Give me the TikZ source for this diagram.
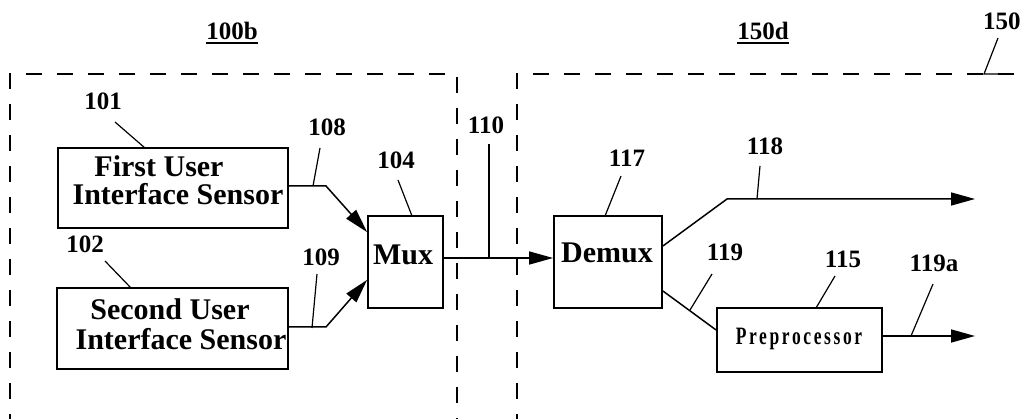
\documentclass[tikz,border=0pt]{standalone}
\usepackage{fontspec}
\setmainfont{Liberation Serif}
\usetikzlibrary{arrows.meta,calc}
\newcommand{\myul}[1]{\setbox0=\hbox{#1}\vtop{\copy0\kern2pt\hrule height 2pt width \wd0}}
\begin{document}
\begin{tikzpicture}[x=1pt,y=-1pt,
 box/.style={draw,line width=1.8pt,inner sep=0pt},
 btext/.style={inner sep=0pt,anchor=base,font=\fontsize{30}{29}\selectfont\bfseries},
 num/.style={inner sep=0pt,font=\fontsize{25}{25}\selectfont\bfseries},
 conn/.style={line width=1.5pt},
 arr/.style={conn,-{Triangle[length=24pt,width=13pt]}},
 lead/.style={line width=1.2pt},
 dashbox/.style={line width=1.6pt,dash pattern=on 16pt off 15pt}]
\useasboundingbox (0,0) rectangle (1020,419);
\clip (0,0) rectangle (1020,419);

% dashed enclosures
\draw[dashbox] (10,430) -- (10,74) -- (457,74) -- (457,430);
\draw[dashbox] (517,430) -- (517,74) -- (1040,74);

% headings
\node[num,anchor=base] (l100b) at (232,40) {\myul{100b}};
\node[num,anchor=base] (l150d) at (763,40) {\myul{150d}};
\node[num,anchor=base west] (l150) at (983,30) {150};

% boxes
\node[box,minimum width=230pt,minimum height=80pt] (b101) at (173,188) {};
\node[box,minimum width=231pt,minimum height=81pt] (b102) at (172.5,328.5) {};
\node[box,minimum width=75pt,minimum height=92pt] (mux) at (405.5,262) {};
\node[box,minimum width=108pt,minimum height=92pt] (demux) at (608,262) {};
\node[box,minimum width=165pt,minimum height=64pt] (pre) at (799.5,340) {};

% box texts
\node[btext] (t101a) at (159,177) {First User};
\node[btext] (t101b) at (178,205) {Interface Sensor};
\node[btext] (t102a) at (170,320) {Second User};
\node[btext] (t102b) at (181,350) {Interface Sensor};
\node[btext] (tmux) at (403,265) {Mux};
\node[btext] (tdemux) at (607,263) {Demux};
\node[inner sep=0pt,anchor=base,font=\fontsize{25}{25}\selectfont\bfseries] (tpre) at (799,345)
  {\scalebox{0.7}[1]{\addfontfeature{LetterSpace=15}Preprocessor}};

% numeric labels
\node[num] (l101) at (103,101) {101};
\node[num] (l102) at (85,244) {102};
\node[num] (l104) at (396,160) {104};
\node[num] (l108) at (327,127) {108};
\node[num] (l109) at (321,257) {109};
\node[num] (l110) at (486,125) {110};
\node[num] (l117) at (627,158) {117};
\node[num] (l118) at (765,146) {118};
\node[num] (l119) at (725,252) {119};
\node[num] (l115) at (843,259) {115};
\node[num] (l119a) at (934,263) {119a};

% connector bend points and free ends
\coordinate (k108) at (326,186);
\coordinate (k109) at (326,327);
\coordinate (k118) at (727,199);
\coordinate (e118) at (975,199);
\coordinate (e119a) at (975,336);
\coordinate (c110) at (489,258);

% connectors
\draw[arr] ($(b101.east)+(0,-2)$) -- (k108) -- ($(mux.north west)+(0,17)$);
\draw[arr] ($(b102.east)+(0,-1.5)$) -- (k109) -- ($(mux.south west)+(0,-29)$);
\draw[arr] ($(mux.east)+(0,-4)$) -- ($(demux.west)+(0,-4)$);
\draw[arr] ($(demux.east)+(0,-16)$) -- (k118) -- (e118);
\draw[conn] ($(demux.east)+(0,29)$) -- ($(pre.west)+(0,-10)$);
\draw[arr] ($(pre.east)+(0,-4)$) -- (e119a);

% leader lines
\coordinate (s101) at (115,122); \coordinate (f101) at (145,148);
\coordinate (s102) at (105,261); \coordinate (f102) at (131,288);
\coordinate (s104) at (398,180); \coordinate (f104) at (412,216);
\coordinate (s108) at (320,148); \coordinate (f108) at (313,186);
\coordinate (s109) at (317,274); \coordinate (f109) at (312,328);
\coordinate (s110) at (489,144);
\coordinate (s117) at (621,176); \coordinate (f117) at (605,216);
\coordinate (s118) at (760,166); \coordinate (f118) at (757,199);
\coordinate (s119) at (712,274); \coordinate (f119) at (690,310);
\coordinate (s115) at (835,276); \coordinate (f115) at (816,308);
\coordinate (s119a) at (933,284); \coordinate (f119a) at (911,336);
\coordinate (s150) at (998,38); \coordinate (f150) at (984,74);
\draw[lead] (s101) -- (f101);
\draw[lead] (s102) -- (f102);
\draw[lead] (s104) -- (f104);
\draw[lead] (s108) -- (f108);
\draw[lead] (s109) -- (f109);
\draw[lead] (s110) -- (c110);
\draw[lead] (s117) -- (f117);
\draw[lead] (s118) -- (f118);
\draw[lead] (s119) -- (f119);
\draw[lead] (s115) -- (f115);
\draw[lead] (s119a) -- (f119a);
\draw[lead] (s150) -- (f150) -- (1000,74);
\end{tikzpicture}
\end{document}
